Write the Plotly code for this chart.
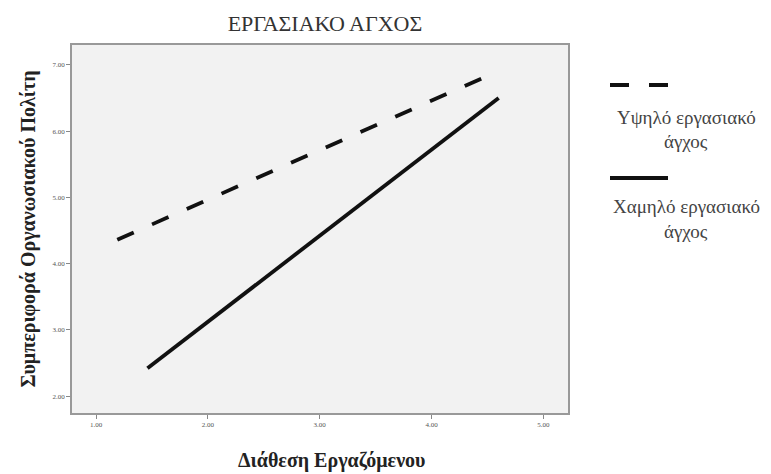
import plotly.graph_objects as go

# Data
x_high = [1.19, 4.455]
y_high = [4.36, 6.80]
x_low = [1.46, 4.60]
y_low = [2.42, 6.50]

x_ticks = [1, 2, 3, 4, 5]
x_ticklabels = ["1.00", "2.00", "3.00", "4.00", "5.00"]
y_ticks = [2, 3, 4, 5, 6, 7]
y_ticklabels = ["2.00", "3.00", "4.00", "5.00", "6.00", "7.00"]

title = "ΕΡΓΑΣΙΑΚΟ ΑΓΧΟΣ"
x_title = "Διάθεση Εργαζόμενου"
y_title = "Συμπεριφορά Οργανωσιακού Πολίτη"
legend_high = ["Υψηλό εργασιακό", "άγχος"]
legend_low = ["Χαμηλό εργασιακό", "άγχος"]

SERIF = "Liberation Serif"

# page body has an 8px margin; figure is sized to fit inside the window
OFF = 8
W, H = 771 - OFF, 474 - OFF
PL, PR, PT, PB = 72, 568, 45, 413  # plot area in page pixels


def px(x):
    return (x - PL) / (PR - PL)


def py(y):
    return (PB - y) / (PB - PT)


fig = go.Figure()
fig.add_trace(go.Scatter(x=x_high, y=y_high, mode="lines",
                         line=dict(color="#111111", width=3.8, dash="18px,20px"),
                         showlegend=False))
fig.add_trace(go.Scatter(x=x_low, y=y_low, mode="lines",
                         line=dict(color="#111111", width=3.8),
                         showlegend=False))

# manual legend (symbol above text, as in the reference)
fig.add_shape(type="line", xref="paper", yref="paper",
              x0=px(610), x1=px(668), y0=py(85), y1=py(85),
              line=dict(color="#111111", width=3.8, dash="19px,20px"))
fig.add_shape(type="line", xref="paper", yref="paper",
              x0=px(610), x1=px(668), y0=py(178), y1=py(178),
              line=dict(color="#111111", width=3.8))
for lines, ys in ((legend_high, (117, 141)), (legend_low, (207, 231))):
    for t, yy in zip(lines, ys):
        fig.add_annotation(text=t, xref="paper", yref="paper",
                           x=px(686), y=py(yy), showarrow=False,
                           xanchor="center", yanchor="middle",
                           font=dict(family=SERIF, size=19, color="#444444"))

# x-axis title (slightly right of the plot centre in the reference)
fig.add_annotation(text="<b>" + x_title + "</b>", xref="paper", yref="paper",
                   x=px(331), y=py(461), showarrow=False,
                   xanchor="center", yanchor="middle",
                   font=dict(family=SERIF, size=20, color="#222222"))

fig.update_layout(
    width=W, height=H,
    margin=dict(l=PL - OFF, r=W - (PR - OFF), t=PT - OFF, b=H - (PB - OFF)),
    paper_bgcolor="white",
    plot_bgcolor="#f2f2f2",
    showlegend=False,
    title=dict(text=title, x=(325 - OFF) / W, xanchor="center",
               y=1 - (23.5 - OFF) / H, yanchor="middle",
               font=dict(family=SERIF, size=22, color="#333333")),
    font=dict(family=SERIF),
)
fig.update_xaxes(range=[0.785, 5.22], tickvals=x_ticks, ticktext=x_ticklabels,
                 showgrid=False, zeroline=False, ticks="outside", ticklen=4,
                 tickcolor="#888888", tickfont=dict(family=SERIF, size=7, color="#555555"),
                 showline=True, linecolor="#999999", linewidth=1.5, mirror=True)
fig.update_yaxes(range=[1.745, 7.3], tickvals=y_ticks, ticktext=y_ticklabels,
                 showgrid=False, zeroline=False, ticks="outside", ticklen=4,
                 tickcolor="#888888", tickfont=dict(family=SERIF, size=7, color="#555555"),
                 showline=True, linecolor="#999999", linewidth=1.5, mirror=True,
                 title=dict(text="<b>" + y_title + "</b>", standoff=12,
                            font=dict(family=SERIF, size=20, color="#222222")))

fig.write_html("out.html")
